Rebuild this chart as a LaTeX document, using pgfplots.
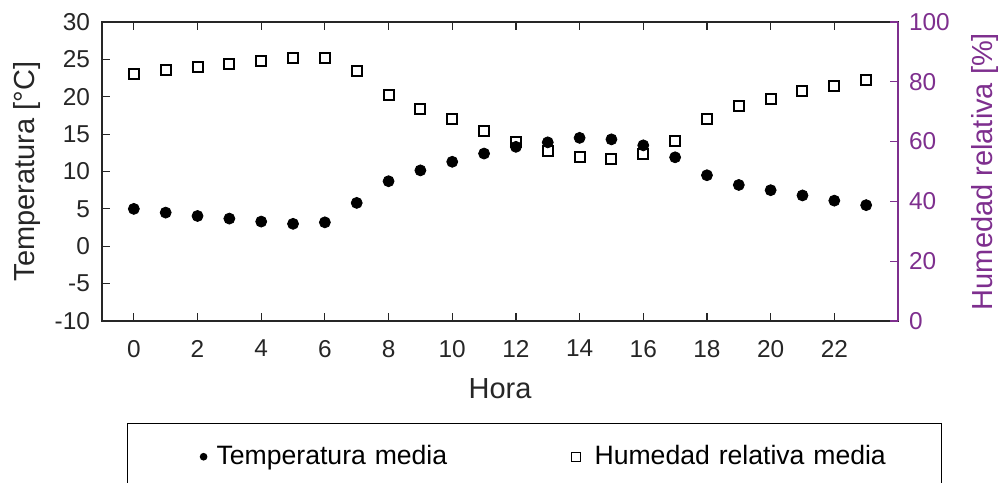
\documentclass[border=0pt]{standalone}
\usepackage{fontspec}
\setmainfont{Liberation Sans}
\usepackage{pgfplots}
\pgfplotsset{compat=1.18}
\definecolor{hum}{RGB}{126,47,142}
\definecolor{axgray}{RGB}{38,38,38}

\begin{document}
\begin{tikzpicture}
\begin{axis}[
  name=ax,
  scale only axis, width=398pt, height=149.5pt,
  xmin=-1, xmax=24, ymin=-10, ymax=30,
  xtick={0,2,...,22}, ytick={-10,-5,...,30},
  ytick pos=left,
  tick align=inside, major tick length=4pt,
  axis line style={axgray, line width=0.6pt},
  every tick/.style={axgray, line width=0.6pt},
  tick label style={font=\fontsize{12.2}{14}\selectfont, text=axgray, /pgf/number format/assume math mode=true},
  xticklabel style={yshift=-6pt},
  yticklabel style={xshift=-2.5pt},
  label style={font=\fontsize{14.5}{17}\selectfont, text=axgray},
  xlabel={Hora}, ylabel={Temperatura [°C]},
  xlabel style={at={(axis description cs:0.5,-0.2274)}, anchor=center},
  ylabel style={at={(axis description cs:-0.0942,0.5)}, anchor=center},
  legend columns=2,
  legend style={at={(axis description cs:0.0314,-0.3411)}, anchor=north west,
    draw=black, line width=0.6pt, inner xsep=0pt, inner ysep=9pt,
    font=\fontsize{13.3}{15}\selectfont,
    nodes={inner xsep=3.5pt, inner ysep=2pt, text width=170pt, align=left}},
]
% temperatura media
\addplot[only marks, mark=*, mark size=2.75pt, black,
  legend image code/.code={\path[draw=none, fill=none] (0pt,-4pt) rectangle (41pt,4pt); \fill[black] (38pt,0pt) circle (1.6pt);}]
coordinates {
(0,5.0) (1,4.5) (2,4.05) (3,3.7) (4,3.3) (5,3.0) (6,3.2) (7,5.8)
(8,8.7) (9,10.15) (10,11.3) (11,12.4) (12,13.3) (13,13.9) (14,14.5) (15,14.3)
(16,13.5) (17,11.9) (18,9.5) (19,8.2) (20,7.5) (21,6.8) (22,6.1) (23,5.5)
};
\addlegendentry{Temperatura media}
\addlegendimage{legend image code/.code={\path[draw=none, fill=none] (0pt,-4pt) rectangle (12pt,4pt); \draw[black, line width=0.4pt] (3.75pt,-2.25pt) rectangle (8.25pt,2.25pt);}}
\addlegendentry{Humedad relativa media}
\end{axis}

\begin{axis}[
  scale only axis, width=398pt, height=149.5pt,
  xmin=-1, xmax=24, ymin=0, ymax=100,
  ytick={0,20,...,100},
  axis x line=none, axis y line*=right,
  y axis line style={hum, line width=0.6pt},
  ytick style={hum, line width=0.6pt},
  tick align=inside, major tick length=4pt,
  yticklabel style={text=hum, font=\fontsize{12.2}{14}\selectfont, xshift=2pt, /pgf/number format/assume math mode=true},
  ylabel={Humedad relativa [\%]},
  ylabel style={at={(axis description cs:1.109,0.5)}, anchor=center, text=hum, font=\fontsize{14.5}{17}\selectfont},
]
% humedad relativa media
\addplot[only marks, mark=square, mark size=2.5pt, black, line width=1pt]
coordinates {
(0,82.5) (1,83.9) (2,85.0) (3,86.1) (4,87.0) (5,88.0) (6,87.8) (7,83.5)
(8,75.7) (9,70.8) (10,67.4) (11,63.7) (12,60.0) (13,56.9) (14,54.8) (15,54.3)
(16,56.0) (17,60.1) (18,67.4) (19,71.9) (20,74.4) (21,76.8) (22,78.6) (23,80.5)
};
\end{axis}
\pgfresetboundingbox
\path[use as bounding box] ([xshift=-51pt,yshift=-80.5pt]ax.south west) rectangle ([xshift=449pt,yshift=160.5pt]ax.south west);
\end{tikzpicture}
\end{document}
